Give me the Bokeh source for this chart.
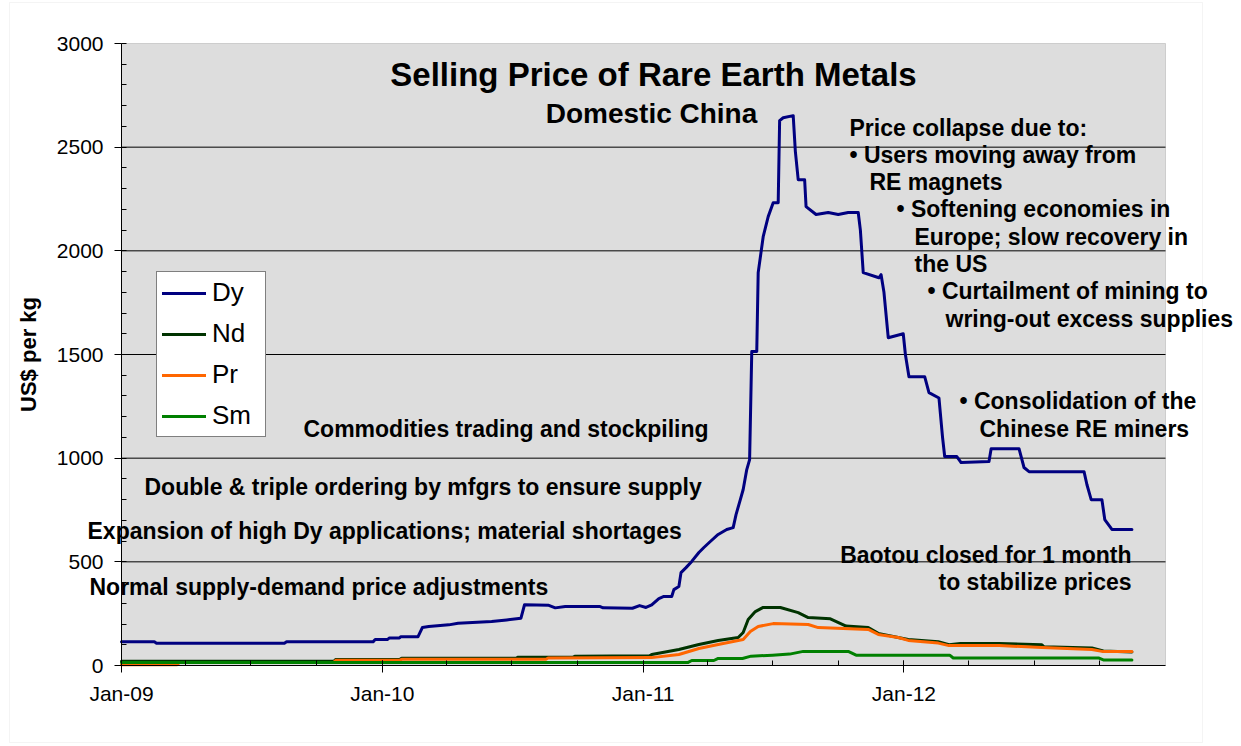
import pandas as pd
from bokeh.plotting import figure
from bokeh.models import (Range1d, SingleIntervalTicker, FixedTicker,
                          DatetimeTickFormatter, Label, BoxAnnotation)
from bokeh.embed import file_html
from bokeh.resources import INLINE

# ---------------- data ----------------
dy = [("2009-01-01",114),("2009-02-16",114),("2009-02-19",107),("2009-08-17",107),("2009-08-20",114),
      ("2009-12-19",114),("2009-12-22",125),("2010-01-08",125),("2010-01-11",133),("2010-01-25",133),
      ("2010-01-27",139),("2010-02-20",139),("2010-02-26",183),("2010-03-07",188),("2010-04-04",196),
      ("2010-04-17",204),("2010-06-03",212),("2010-06-24",220),("2010-07-14",228),("2010-07-19",293),
      ("2010-08-22",290),("2010-08-31",278),("2010-09-14",285),("2010-11-01",285),("2010-11-06",278),
      ("2010-12-17",276),("2010-12-27",289),("2011-01-05",280),("2011-01-13",292),("2011-01-23",323),
      ("2011-01-30",333),("2011-02-10",333),("2011-02-13",366),("2011-02-20",381),("2011-02-23",448),
      ("2011-03-02",472),("2011-03-10",502),("2011-03-20",545),("2011-03-27",569),("2011-04-05",598),
      ("2011-04-16",632),("2011-04-28",656),("2011-05-07",665),("2011-05-11",728),("2011-05-17",800),
      ("2011-05-21",849),("2011-05-26",945),("2011-05-30",993),("2011-06-02",1514),("2011-06-09",1514),
      ("2011-06-11",1895),("2011-06-18",2068),("2011-06-25",2165),("2011-07-02",2232),("2011-07-09",2232),
      ("2011-07-11",2628),("2011-07-16",2642),("2011-07-30",2652),("2011-08-02",2480),("2011-08-06",2343),
      ("2011-08-15",2343),("2011-08-17",2213),("2011-08-31",2175),("2011-09-17",2185),("2011-10-01",2175),
      ("2011-10-15",2185),("2011-10-29",2185),("2011-11-01",2100),("2011-11-05",1895),("2011-11-27",1870),
      ("2011-11-30",1885),("2011-12-04",1800),("2011-12-10",1581),("2011-12-31",1600),("2012-01-03",1500),
      ("2012-01-08",1393),("2012-01-30",1393),("2012-02-05",1316),("2012-02-19",1290),("2012-02-24",1100),
      ("2012-02-27",1008),("2012-03-15",1008),("2012-03-21",979),("2012-04-29",984),("2012-05-02",1046),
      ("2012-06-10",1046),("2012-06-17",955),("2012-06-24",935),("2012-09-09",935),("2012-09-13",873),
      ("2012-09-19",800),("2012-10-04",800),("2012-10-08",704),("2012-10-18",656),("2012-11-15",656)]

nd = [("2009-01-01",20),("2009-10-25",20),("2009-10-28",29),("2010-01-25",29),("2010-01-28",35),
      ("2010-07-07",35),("2010-07-10",40),("2010-09-25",40),("2010-09-28",45),("2011-01-10",47),
      ("2011-01-13",53),("2011-02-20",77),("2011-03-20",101),("2011-04-16",121),("2011-05-14",135),
      ("2011-05-21",159),("2011-05-28",222),("2011-06-07",260),("2011-06-18",280),("2011-07-12",280),
      ("2011-08-06",255),("2011-08-20",231),("2011-09-20",225),("2011-10-12",190),("2011-11-12",183),
      ("2011-11-26",155),("2011-12-24",135),("2012-01-07",125),("2012-02-18",115),("2012-03-04",100),
      ("2012-03-20",106),("2012-05-13",106),("2012-07-12",100),("2012-07-15",90),("2012-09-20",85),
      ("2012-10-06",70),("2012-11-15",65)]

pr = [("2009-01-01",4),("2009-03-20",4),("2009-03-23",15),("2009-10-25",15),("2009-10-28",25),
      ("2010-01-25",25),("2010-01-28",30),("2010-08-18",30),("2010-08-21",36),("2011-01-13",38),
      ("2011-02-20",53),("2011-03-20",82),("2011-04-16",101),("2011-05-21",125),("2011-05-31",164),
      ("2011-06-11",188),("2011-07-02",202),("2011-08-20",198),("2011-09-03",183),("2011-11-12",174),
      ("2011-11-26",150),("2011-12-24",135),("2012-01-07",121),("2012-02-18",108),("2012-03-04",96),
      ("2012-05-13",96),("2012-07-12",87),("2012-09-20",77),("2012-10-06",67),("2012-11-15",67)]

sm = [("2009-01-01",15),("2011-03-05",15),("2011-03-10",24),("2011-04-10",24),("2011-04-16",34),
      ("2011-05-20",34),("2011-06-01",45),("2011-07-01",50),("2011-07-25",55),("2011-08-13",68),
      ("2011-10-15",68),("2011-10-26",50),("2012-03-05",50),("2012-03-10",36),("2012-09-30",36),
      ("2012-10-06",27),("2012-11-15",27)]

series_names = ["Dy", "Nd", "Pr", "Sm"]
series_data = [dy, nd, pr, sm]
series_colors = ["#000080", "#003300", "#FF6600", "#008000"]

year_ticks = ["2009-01-01", "2010-01-01", "2011-01-01", "2012-01-01"]
grid_levels = [500, 1000, 1500, 2000, 2500]
FONT = "Liberation Sans"


def ms(d):
    return pd.Timestamp(d).timestamp() * 1000.0


# plot-area geometry (reference pixels)
X_START, X_END = ms("2009-01-01"), ms("2013-01-01")
Y_START, Y_END = 0, 3000
PA_L, PA_W, PA_B, PA_H = 122.0, 1044.0, 666.0, 622.0
MS_PER_PX = (X_END - X_START) / PA_W
# the canvas frame covers the whole chart so that the notes/axes are not clipped
FRAME_L, FRAME_R, FRAME_T, FRAME_B = 2.0, 1237.0, 2.0, 744.0


def ax(px):
    return X_START + (px - PA_L) * MS_PER_PX


def ay(py):
    return (PA_B - py) / PA_H * (Y_END - Y_START)


p = figure(width=1238, height=744, x_axis_type="datetime",
           x_range=Range1d(ax(FRAME_L), ax(FRAME_R)), y_range=Range1d(ay(FRAME_B), ay(FRAME_T)),
           output_backend="svg", toolbar_location=None,
           min_border_left=1, min_border_right=2, min_border_top=1, min_border_bottom=1,
           background_fill_color="white", border_fill_color="white")
p.outline_line_color = None

# light chart border
p.add_layout(BoxAnnotation(left=ax(10), right=ax(1203), top=ay(3), bottom=ay(743),
                           fill_alpha=0.0, line_color="#D9D9D9", line_width=1, level="image"))
# grey plot area
p.add_layout(BoxAnnotation(left=X_START, right=X_END, bottom=Y_START, top=Y_END,
                           fill_color="#DDDDDD", fill_alpha=1.0,
                           line_color="#808080", line_width=1, level="image"))

# horizontal gridlines (from the tick values)
p.segment(x0=[X_START] * len(grid_levels), x1=[X_END] * len(grid_levels),
          y0=grid_levels, y1=grid_levels, line_color="black", line_width=1)

for name, data, color in zip(series_names, series_data, series_colors):
    xs = [pd.Timestamp(d) for d, _ in data]
    ys = [v for _, v in data]
    p.line(xs, ys, line_color=color, line_width=3, line_join="round",
           line_cap="round", legend_label=name)

# axes
p.xaxis.ticker = FixedTicker(ticks=[ms(d) for d in year_ticks],
                             minor_ticks=[ms(d) for d in pd.date_range("2009-01-01", "2012-12-31", freq="QS")])
p.xaxis.formatter = DatetimeTickFormatter(years="%b-%y", months="%b-%y", days="%b-%y")
p.xaxis.bounds = (X_START, X_END)
p.xaxis.fixed_location = Y_START
p.yaxis.ticker = SingleIntervalTicker(interval=500, num_minor_ticks=5)
p.yaxis.fixed_location = X_START
p.yaxis.bounds = (Y_START, Y_END)

for axis in (p.xaxis[0], p.yaxis[0]):
    axis.axis_line_color = "black"
    axis.axis_line_width = 1
    axis.major_tick_line_color = "black"
    axis.minor_tick_line_color = "black"
    axis.major_tick_out = 7
    axis.minor_tick_in = 5
    axis.minor_tick_out = 0
    axis.major_label_text_font = FONT
    axis.major_label_text_font_size = "21px"
    axis.major_label_text_color = "black"

p.xaxis.major_tick_in = 5
p.xaxis.major_label_standoff = 9
p.yaxis.major_tick_in = 0
p.yaxis.major_label_standoff = 11
p.yaxis.axis_label = "US$ per kg"
p.yaxis.axis_label_text_font = FONT
p.yaxis.axis_label_text_font_size = "22px"
p.yaxis.axis_label_text_font_style = "bold"
p.yaxis.axis_label_text_color = "black"
p.yaxis.axis_label_standoff = 13

p.xgrid.visible = False
p.ygrid.visible = False

# legend
lg = p.legend[0]
lg.location = (157 - FRAME_L, FRAME_B - 438)
lg.margin = 0
lg.padding = 5
lg.spacing = 10
lg.glyph_width = 44
lg.glyph_height = 30
lg.label_height = 30
lg.label_width = 48
lg.label_standoff = 6
lg.label_text_font = FONT
lg.label_text_font_size = "26px"
lg.label_text_color = "black"
lg.border_line_color = "black"
lg.border_line_width = 1
lg.background_fill_color = "white"
lg.background_fill_alpha = 1.0


# annotations
def note(text, px, py, size="23px", align="left"):
    p.add_layout(Label(x=ax(px), y=ay(py), text=text, text_font=FONT,
                       text_font_size=size, text_font_style="bold", text_color="black",
                       text_align=align, text_baseline="middle", level="overlay"))


note("Selling Price of Rare Earth Metals", 654, 75, size="33px", align="center")
note("Domestic China", 652, 114, size="28px", align="center")
note("Price collapse due to:", 850, 128)
note("\u2022 Users moving away from", 850, 155)
note("RE magnets", 870, 182)
note("\u2022 Softening economies in", 897, 209)
note("Europe; slow recovery in", 915, 237)
note("the US", 915, 264)
note("\u2022 Curtailment of mining to", 928, 291)
note("wring-out excess supplies", 946, 319)
note("\u2022 Consolidation of the", 960, 401)
note("Chinese RE miners", 980, 429)
note("Baotou closed for 1 month", 1132, 555, align="right")
note("to stabilize prices", 1132, 582, align="right")
note("Commodities trading and stockpiling", 304, 429)
note("Double & triple ordering by mfgrs to ensure supply", 145, 487)
note("Expansion of high Dy applications; material shortages", 88, 531)
note("Normal supply-demand price adjustments", 90, 587)

open("out.html", "w").write(file_html(p, INLINE))
